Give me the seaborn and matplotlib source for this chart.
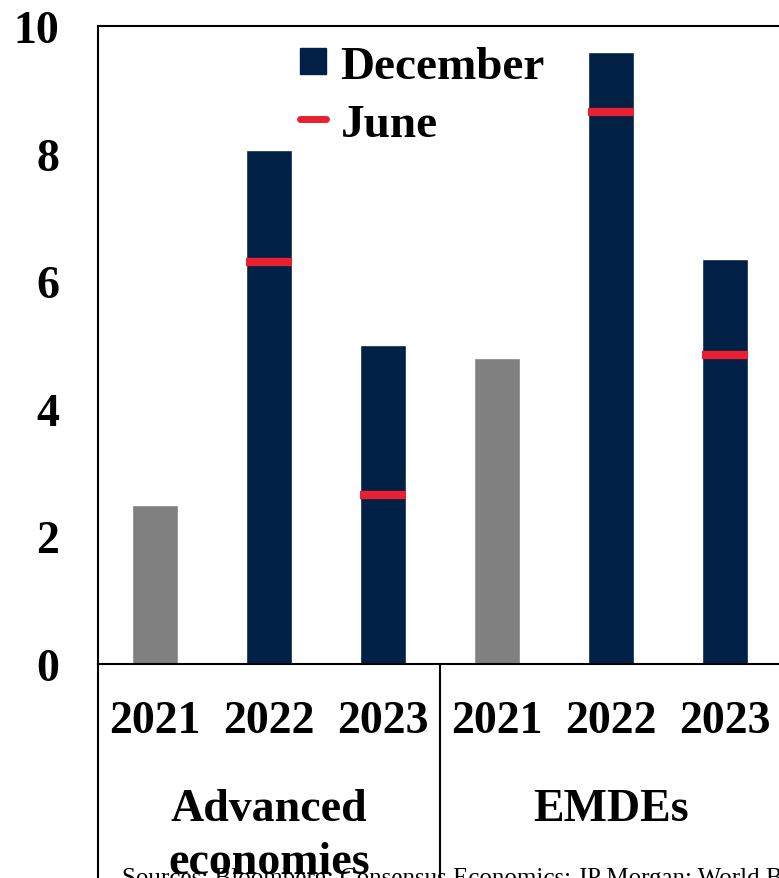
import matplotlib
matplotlib.use("Agg")
import matplotlib.pyplot as plt
import seaborn as sns
import pandas as pd
from matplotlib.lines import Line2D

groups = ["Advanced\neconomies", "Advanced\neconomies", "Advanced\neconomies", "EMDEs", "EMDEs", "EMDEs"]
years = ["2021", "2022", "2023", "2021", "2022", "2023"]
december = [2.5, 8.05, 5.0, 4.8, 9.6, 6.35]
june = [None, 6.3, 2.65, None, 8.65, 4.85]
yticks = [0, 2, 4, 6, 8, 10]

NAVY = "#002145"
RED = "#E8202F"
GREY = "#808080"

sns.set_theme(style="white")
plt.rcParams["font.family"] = ["Liberation Serif", "DejaVu Serif"]
plt.rcParams["font.weight"] = "bold"
plt.rcParams["text.color"] = "black"
plt.rcParams["xtick.color"] = "black"
plt.rcParams["ytick.color"] = "black"

df = pd.DataFrame({"key": [f"{g}-{y}" for g, y in zip(groups, years)],
                   "year": years, "december": december})
colors = [GREY if y == "2021" else NAVY for y in years]

W, H = 779, 879
fig = plt.figure(figsize=(W / 100, H / 100), dpi=100)
left, right, top, bottom = 98, 782, 27, 665
ax = fig.add_axes([left / W, 1 - bottom / H, (right - left) / W, (bottom - top) / H])

sns.barplot(data=df, x="key", y="december", hue="key", palette=colors,
            width=0.4, legend=False, ax=ax, saturation=1)

xs = list(range(len(years)))
for x, v in zip(xs, june):
    if v is not None:
        ax.hlines(v, x - 0.2, x + 0.2, color=RED, lw=6, zorder=3)

ax.set_xlim(-0.5, 5.5)
ax.set_ylim(0, 10)
ax.set_yticks(yticks)
ax.set_yticklabels([str(t) for t in yticks], fontsize=33, fontweight="bold")
ax.set_xticks(xs)
ax.set_xticklabels(years, fontsize=33, fontweight="bold")
ax.tick_params(axis="y", length=0, pad=28, labelcolor="black")
ax.tick_params(axis="x", length=0, pad=26, labelcolor="black")
ax.set_xlabel("")
ax.set_ylabel("")
for s in ax.spines.values():
    s.set_visible(True)
    s.set_color("black")
    s.set_linewidth(1.5)

# category table beneath the axis
span = bottom - top
depth = (H - bottom) / span + 0.05
for xd in [-0.5, 2.5, 5.5]:
    ax.plot([xd, xd], [0, -depth], transform=ax.get_xaxis_transform(),
            color="black", lw=1.5, clip_on=False)
ax.text(1, -(789 - bottom) / span, "Advanced\neconomies",
        transform=ax.get_xaxis_transform(), ha="center", va="top",
        fontsize=33, fontweight="bold", linespacing=1.35, color="black")
ax.text(4, -(789 - bottom) / span, "EMDEs",
        transform=ax.get_xaxis_transform(), ha="center", va="top",
        fontsize=33, fontweight="bold", color="black")

fig.text(122 / W, 1 - 868 / H,
         "Sources: Bloomberg; Consensus Economics; JP Morgan; World Bank.",
         fontsize=18, fontweight="normal", ha="left", va="top", color="black")

handles = [Line2D([], [], marker="s", color=NAVY, linestyle="none", markersize=19),
           Line2D([], [], color=RED, lw=5)]
leg = ax.legend(handles, ["December", "June"], loc="upper left",
                bbox_to_anchor=((272 - left) / (right - left), 1.015),
                frameon=False, prop={"size": 34, "weight": "bold"},
                handlelength=0.55, handletextpad=0.3, labelspacing=0.32,
                borderpad=0.1)
for t in leg.get_texts():
    t.set_color("black")

fig.savefig("out.png", dpi=100)
